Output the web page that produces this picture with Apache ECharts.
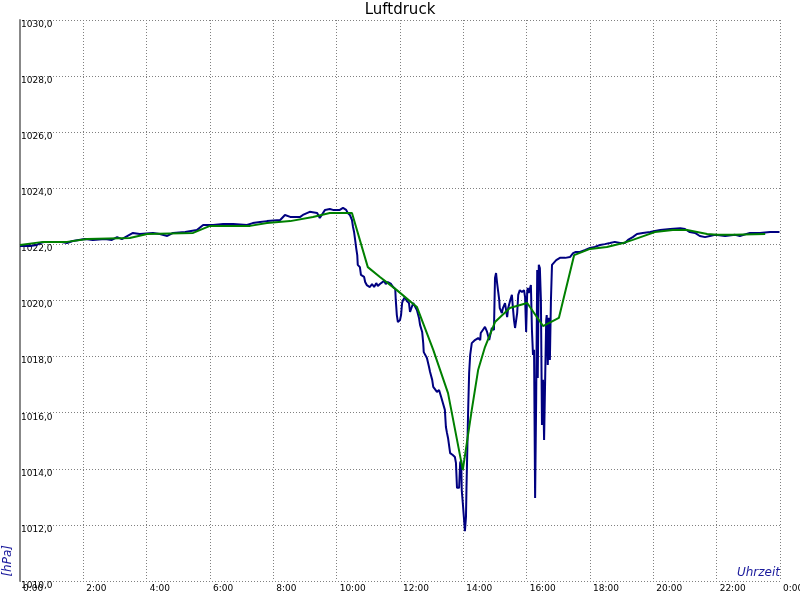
<!DOCTYPE html>
<html>
<head>
<meta charset="utf-8">
<script src="https://cdn.jsdelivr.net/npm/echarts@6/dist/echarts.min.js"></script>
<style>html,body{margin:0;padding:0;background:#fff}#c{width:800px;height:600px}</style>
</head>
<body>
<div id="c"></div>
<script>
// Tick labels / axis ranges
const titleText = "Luftdruck";
const yUnit = "[hPa]";
const xUnit = "Uhrzeit";
const yMin = 1010, yMax = 1030, yStep = 2;
const xMinH = 0, xMaxH = 24, xStepH = 2;

// Measured pressure: time in minutes after midnight, value in hPa
const rawMinutes = [0,19,32,38,47,63,76,89,100,123,138,161,174,184,193,214,227,252,265,279,290,313,335,347,366,385,404,430,441,455,468,493,502,512,531,536,549,563,568,578,587,593,606,612,618,621,625,629,631,633,635,637,639,640,644,646,648,652,654,657,663,667,671,675,678,682,690,693,697,703,707,711,712,714,716,720,722,724,726,729,733,737,739,745,748,752,756,758,762,764,765,771,775,777,781,783,786,790,794,798,801,805,807,809,811,815,820,824,826,828,832,834,836,837,839,841,843,845,846,847,849,851,853,856,862,868,872,873,877,881,885,889,891,894,898,900,902,904,908,909,913,915,919,923,925,928,932,934,936,938,942,944,947,951,955,957,959,961,962,964,968,970,972,974,976,978,980,981,983,985,987,989,991,993,995,997,998,1000,1002,1004,1006,1008,1010,1016,1023,1033,1042,1048,1053,1061,1071,1080,1089,1099,1108,1118,1127,1137,1146,1152,1161,1169,1180,1194,1203,1213,1232,1251,1260,1269,1279,1288,1298,1307,1317,1336,1355,1364,1383,1402,1421,1439];
const rawValues = [1021.94,1021.94,1021.98,1022.05,1022.09,1022.09,1022.09,1022.05,1022.12,1022.19,1022.16,1022.19,1022.16,1022.26,1022.19,1022.41,1022.37,1022.41,1022.37,1022.30,1022.41,1022.44,1022.51,1022.69,1022.69,1022.73,1022.73,1022.69,1022.76,1022.80,1022.83,1022.87,1023.05,1022.98,1022.98,1023.05,1023.16,1023.12,1022.94,1023.23,1023.26,1023.23,1023.23,1023.30,1023.23,1023.12,1023.05,1022.87,1022.62,1022.44,1022.16,1021.87,1021.62,1021.27,1021.19,1020.91,1020.98,1020.84,1020.66,1020.55,1020.48,1020.59,1020.48,1020.62,1020.52,1020.59,1020.70,1020.59,1020.66,1020.59,1020.48,1020.41,1020.02,1019.48,1019.23,1019.30,1019.48,1019.91,1020.02,1020.12,1019.98,1019.91,1019.59,1019.91,1019.84,1019.66,1019.38,1019.13,1018.88,1018.48,1018.16,1017.95,1017.63,1017.45,1017.17,1016.92,1016.88,1016.74,1016.81,1016.56,1016.63,1016.10,1015.49,1015.28,1015.10,1014.56,1014.49,1014.42,1014.21,1013.32,1013.32,1014.21,1014.31,1013.24,1012.78,1012.28,1011.78,1012.28,1013.35,1014.21,1015.99,1017.42,1018.06,1018.48,1018.59,1018.66,1018.59,1018.84,1018.95,1019.06,1018.88,1018.59,1018.77,1019.02,1018.95,1020.80,1020.98,1020.62,1020.02,1019.73,1019.55,1019.73,1019.91,1019.41,1019.73,1019.95,1020.20,1019.73,1019.30,1019.02,1019.55,1020.20,1020.37,1020.30,1020.37,1020.12,1018.88,1020.30,1020.45,1020.27,1020.55,1018.95,1018.06,1018.24,1012.96,1016.45,1021.09,1017.24,1021.27,1021.16,1020.02,1015.56,1017.17,1015.03,1014.96,1019.30,1019.48,1017.70,1019.38,1017.88,1020.02,1021.27,1021.34,1021.44,1021.52,1021.52,1021.55,1021.69,1021.73,1021.73,1021.80,1021.87,1021.91,1021.98,1022.01,1022.05,1022.09,1022.05,1022.05,1022.16,1022.26,1022.37,1022.41,1022.44,1022.48,1022.51,1022.55,1022.58,1022.55,1022.44,1022.41,1022.30,1022.26,1022.30,1022.34,1022.30,1022.34,1022.30,1022.41,1022.41,1022.44,1022.44];

// Smoothed pressure (green)
const smoothMinutes = [0,44,89,127,208,241,328,360,436,468,512,555,587,629,659,682,714,752,783,811,839,856,868,881,900,928,961,991,1021,1050,1080,1112,1143,1161,1188,1203,1237,1264,1283,1302,1321,1351,1412];
const smoothValues = [1021.98,1022.09,1022.09,1022.19,1022.23,1022.37,1022.41,1022.66,1022.66,1022.76,1022.83,1022.98,1023.12,1023.12,1021.19,1020.84,1020.37,1019.77,1018.24,1016.70,1013.96,1016.10,1017.52,1018.34,1019.23,1019.73,1019.91,1019.09,1019.38,1021.62,1021.84,1021.91,1022.05,1022.16,1022.34,1022.44,1022.51,1022.51,1022.44,1022.37,1022.34,1022.34,1022.37];

const rawData = rawMinutes.map((m, i) => [m / 60, rawValues[i]]);
const smoothData = smoothMinutes.map((m, i) => [m / 60, smoothValues[i]]);

const chart = echarts.init(document.getElementById('c'), null, {renderer: 'canvas'});
const gridColor = '#808080';
const font = 'DejaVu Sans';
chart.setOption({
  animation: false,
  backgroundColor: '#ffffff',
  title: {
    text: titleText, left: 'center', top: -2,
    textStyle: {fontFamily: font, fontSize: 15, fontWeight: 'normal', color: '#000'}
  },
  grid: {left: 20, right: 20, top: 20, bottom: 19, containLabel: false, outerBoundsMode: 'none'},
  xAxis: {
    type: 'value', min: xMinH, max: xMaxH, interval: xStepH,
    axisLine: {show: false}, axisTick: {show: false},
    axisLabel: {
      fontFamily: font, fontSize: 9, color: '#000', align: 'left', margin: 3,
      padding: [0, 0, 0, 3],
      showMaxLabel: true, showMinLabel: true, hideOverlap: false,
      formatter: v => (v % 24) + ':00'
    },
    splitLine: {show: true, lineStyle: {color: gridColor, width: 1, type: [1, 2]}}
  },
  yAxis: {
    type: 'value', min: yMin, max: yMax, interval: yStep,
    axisLine: {show: true, lineStyle: {color: '#888888', width: 2}},
    axisTick: {show: false},
    axisLabel: {
      inside: true, fontFamily: font, fontSize: 9, color: '#000', margin: 1,
      verticalAlign: 'top', align: 'left',
      formatter: v => v.toFixed(1).replace('.', ',')
    },
    splitLine: {show: true, lineStyle: {color: gridColor, width: 1, type: [1, 2]}}
  },
  graphic: [
    {type: 'text', left: 2, top: 545, rotation: Math.PI / 2,
     style: {text: yUnit, fontFamily: font, fontSize: 12, fontStyle: 'italic', fill: '#1a1a9c'}},
    {type: 'text', right: 20, top: 567,
     style: {text: xUnit, fontFamily: font, fontSize: 12, fontStyle: 'italic', fill: '#1a1a9c'}}
  ],
  series: [
    {type: 'line', data: rawData, showSymbol: false, lineStyle: {color: '#000080', width: 2}, itemStyle: {color: '#000080'}},
    {type: 'line', data: smoothData, showSymbol: false, lineStyle: {color: '#008000', width: 2}, itemStyle: {color: '#008000'}}
  ]
});
</script>
</body>
</html>
